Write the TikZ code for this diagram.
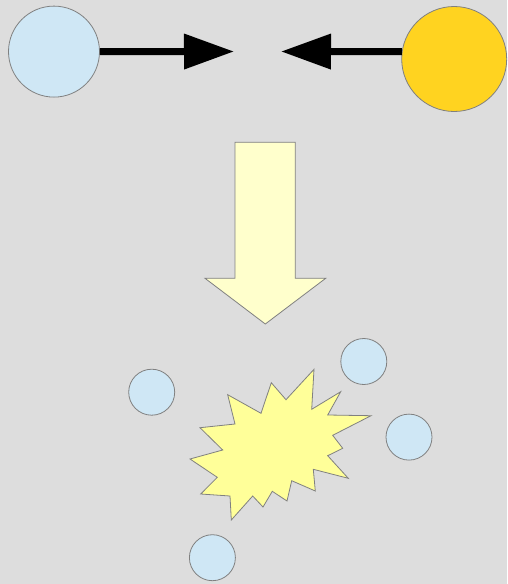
\documentclass[tikz,border=0pt]{standalone}
\usetikzlibrary{arrows.meta}
\definecolor{bg}{HTML}{DDDDDD}
\definecolor{ballblue}{HTML}{CFE7F5}
\definecolor{ballgold}{HTML}{FFD320}
\definecolor{arrowfill}{HTML}{FFFFCC}
\definecolor{boomfill}{HTML}{FFFF99}
\definecolor{edge}{HTML}{808080}
\tikzset{
  ball/.style={circle, draw=edge, line width=0.8pt, inner sep=0pt, minimum size=#1},
  bigarrow/.style={line width=7pt, -{Triangle[length=50pt,width=34pt]}, black},
  shape outline/.style={draw=edge, line width=0.8pt, line join=miter}
}
\begin{document}
\begin{tikzpicture}[x=1pt,y=-1pt]
\fill[bg] (0,0) rectangle (507,584);
\useasboundingbox (0,0) rectangle (507,584);
% top balls
\node[ball=91pt, fill=ballblue] (lc) at (54,51.6) {};
\node[ball=105pt, fill=ballgold] (rc) at (454.2,59) {};
\coordinate (lt) at (234,51.5);
\coordinate (rt) at (281,51.5);
\draw[bigarrow] (lc.east) -- (lt);
\draw[bigarrow] (rc.172) -- (rt);
% down arrow
\draw[shape outline, fill=arrowfill] (235,142.3) -- (295.3,142.3) -- (295.3,278.3) -- (325.7,278.3)
  -- (265.3,324) -- (205,278.3) -- (235,278.3) -- cycle;
% explosion
\draw[shape outline, fill=boomfill] (314,369.3) -- (311.7,409.3) -- (340.7,391.7) -- (327.7,415)
  -- (371,415.7) -- (332.7,435.3) -- (342.7,448.3) -- (327.7,455.7) -- (348.3,478.3)
  -- (313.3,469.3) -- (315.3,491) -- (291.7,480.7) -- (287,501) -- (272.3,491.3)
  -- (263,507) -- (252.7,496) -- (231.3,520) -- (230,496) -- (200.7,494) -- (217.3,477.3)
  -- (190,459) -- (222.7,450) -- (200,427.7) -- (235,424) -- (227.7,394.7) -- (261,413.3)
  -- (271.3,382.7) -- (286,399.7) -- cycle;
% small balls
\node[ball=46pt, fill=ballblue] (b1) at (151.7,392.2) {};
\node[ball=46pt, fill=ballblue] (b2) at (363.8,361.5) {};
\node[ball=46pt, fill=ballblue] (b3) at (409,437.1) {};
\node[ball=46pt, fill=ballblue] (b4) at (212.4,557.7) {};
\end{tikzpicture}
\end{document}
